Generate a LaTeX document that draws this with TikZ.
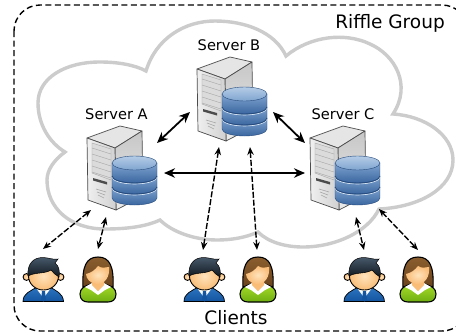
\documentclass[tikz,border=0pt]{standalone}
\usepackage{fontspec}
\setmainfont{DejaVu Sans}
\usetikzlibrary{arrows.meta}
\definecolor{cloudgray}{HTML}{CCCCCC}
\definecolor{dbdark}{HTML}{3A66A0}
\definecolor{dbmid}{HTML}{7FA4CF}
\definecolor{dblight}{HTML}{B4CCE6}
\definecolor{dbline}{HTML}{264A7C}
\definecolor{suit}{HTML}{14559F}
\definecolor{suitlight}{HTML}{2C74C0}
\definecolor{skin}{HTML}{FFE3BC}
\definecolor{skindark}{HTML}{F9BD78}
\definecolor{brownhair}{HTML}{6B431C}
\definecolor{brownlight}{HTML}{8A5E2E}
\definecolor{greenshirt}{HTML}{A6DC2A}
\definecolor{greendark}{HTML}{6FAE12}
\definecolor{darkhair}{HTML}{10171D}
\definecolor{hairlight}{HTML}{46586A}
\tikzset{
  x=1pt,y=-1pt,
  cloudline/.style={draw=cloudgray,line width=3.4pt,line join=miter},
  grouplabel/.style={font=\fontsize{18.5}{20}\selectfont,inner sep=0pt,anchor=base},
  serverlabel/.style={font=\fontsize{14.6}{16}\selectfont,inner sep=0pt,anchor=base},
  solidlink/.style={line width=1.8pt,{Stealth[length=11pt,width=9.5pt]}-{Stealth[length=11pt,width=9.5pt]}},
  dashlink/.style={line width=1.4pt,dash pattern=on 6pt off 2pt,{Stealth[length=8pt,width=6.5pt]}-{Stealth[length=8pt,width=6.5pt]}},
  serverpic/.pic={
    \fill[black!10,draw=black!70,line width=.7pt,line join=round] (0,12) -- (33,0) -- (55,5) -- (28,22) -- cycle;
    \shade[top color=black!22,bottom color=black!8,draw=black!70,line width=.7pt,line join=round] (28,22) -- (55,5) -- (56,70) -- (29,84) -- cycle;
    \shade[left color=black!6,right color=black!18,draw=black!70,line width=.7pt,line join=round] (0,12) -- (28,22) -- (29,84) -- (1,74) -- cycle;
    \fill[black!14,draw=black!35,line width=.4pt] (5,17) -- (24,23) -- (24,54) -- (5,47) -- cycle;
    \foreach \k in {0,1,2,3,4}{\draw[black!35,line width=.4pt] (5,{22+6*\k}) -- (24,{28+6*\k});}
    \fill[black!70] (6,52) -- (20,56) -- (20,58.5) -- (6,54.5) -- cycle;
    \foreach \k in {0,1,2}{\draw[black!35,line width=.6pt] ({9+\k},{63+3*\k}) -- ({19-\k},{66+3*\k});}
    \shade[top color=dbmid,bottom color=dbdark,draw=dbline,line width=.4pt]
      (25,61) -- (25,72) arc[start angle=180,end angle=0,x radius=22.5,y radius=7] -- (70,61) -- cycle;
    \shade[top color=dbmid,bottom color=dbdark,draw=dbline,line width=.4pt]
      (25,50) -- (25,61) arc[start angle=180,end angle=0,x radius=22.5,y radius=7] -- (70,50) -- cycle;
    \shade[top color=dbmid,bottom color=dbdark,draw=dbline,line width=.4pt]
      (25,37) -- (25,50) arc[start angle=180,end angle=0,x radius=22.5,y radius=7] -- (70,37) -- cycle;
    \foreach \yy in {50,61}{
      \draw[white!60!dblight,line width=.6pt] (25,\yy+1) arc[start angle=180,end angle=0,x radius=22.5,y radius=7];
      \draw[dbline,line width=.7pt] (25,\yy) arc[start angle=180,end angle=0,x radius=22.5,y radius=7];
    }
    \shade[top color=dblight,bottom color=dbmid,draw=dbline,line width=.4pt] (47.5,37) ellipse[x radius=22.5,y radius=7];
  },
  manpic/.pic={
    \shade[top color=suitlight,bottom color=suit,draw=black,line width=.7pt] (0,44.5) .. controls (0,36) and (8,34) .. (14,30) -- (27,30) .. controls (33,34) and (40,36) .. (40.5,44.5) -- cycle;
    \fill[white] (13,31) -- (28,31) -- (20.5,41) -- cycle;
    \fill[suit] (19,34) -- (22,34) -- (23,43) -- (20.5,44.5) -- (18,43) -- cycle;
    \shade[inner color=skin,outer color=skindark,draw=black,line width=.9pt] (3.5,20) circle[radius=3.4];
    \shade[inner color=skin,outer color=skindark,draw=black,line width=.9pt] (37.5,20) circle[radius=3.4];
    \shade[inner color=skin,outer color=skindark,draw=black,line width=.9pt] (20.5,19) ellipse[x radius=15,y radius=14];
    \shade[top color=hairlight,bottom color=darkhair,draw=black,line width=.5pt] (5,19) .. controls (4,7) and (10,0.5) .. (20,0.5) .. controls (25,0.5) and (30,3) .. (35,2) -- (32,6) .. controls (36,9) and (37,14) .. (36,20) .. controls (33,18) and (30,16) .. (28,13) .. controls (22,17) and (12,15) .. (5,19) -- cycle;
  },
  womanpic/.pic={
    \shade[top color=brownlight,bottom color=brownhair,draw=black,line width=1.1pt] (3,30) .. controls (2,10) and (6,0) .. (18,0) .. controls (30,0) and (34,10) .. (33,30) -- cycle;
    \shade[top color=greenshirt,bottom color=greendark,draw=black,line width=1.1pt] (0,37) .. controls (0,31) and (5,29) .. (11,27) -- (25,27) .. controls (31,29) and (36,31) .. (36,37) .. controls (36,43) and (32,45) .. (28,45) -- (8,45) .. controls (4,45) and (0,43) .. (0,37) -- cycle;
    \fill[white] (5,30) -- (12,26) -- (18,34) -- (24,26) -- (31,30) -- (25,33) -- (18,38) -- (11,33) -- cycle;
    \fill[skindark] (12,24) -- (24,24) -- (24,28) -- (18,34) -- (12,28) -- cycle;
    \shade[inner color=skin,outer color=skindark] (18,9) .. controls (22,12) and (26,10) .. (29,10) .. controls (30,20) and (25,27) .. (17,27) .. controls (10,27) and (6,21) .. (6,17) .. controls (11,16) and (15,13) .. (18,9) -- cycle;
  }
}
\begin{document}
\begin{tikzpicture}
\path[use as bounding box,fill=white] (0,0) rectangle (456,333);
\clip (0,0) rectangle (456,333);
% group frame (its right side lies beyond the picture edge)
\draw[line width=1.4pt,dash pattern=on 6pt off 3.5pt,rounded corners=26pt] (14,5) rectangle (468,331);
% cloud
\path[cloudline] (146,71)
  .. controls (156,38) and (185,21) .. (215,21)
  .. controls (245,21) and (275,32) .. (286,56)
  .. controls (310,36) and (345,32) .. (370,44)
  .. controls (395,55) and (412,85) .. (393,114)
  .. controls (425,116) and (453,135) .. (453,160)
  .. controls (453,188) and (420,207) .. (379,209)
  .. controls (368,232) and (335,247) .. (303,247)
  .. controls (285,247) and (268,242) .. (258,232)
  .. controls (245,238) and (230,240) .. (217,240)
  .. controls (195,240) and (172,232) .. (160,220)
  .. controls (145,227) and (125,229) .. (105,229)
  .. controls (70,229) and (47,208) .. (47,180)
  .. controls (47,170) and (54,160) .. (65,152)
  .. controls (50,143) and (38,125) .. (38,103)
  .. controls (38,78) and (65,62) .. (100,62)
  .. controls (118,62) and (135,65) .. (146,71) -- cycle;
% servers
\path (87,126) pic {serverpic};
\path (197,57) pic {serverpic};
\path (310,126) pic {serverpic};
% labels
\node[serverlabel] (la) at (116.5,119) {Server A};
\node[serverlabel] (lb) at (229,50) {Server B};
\node[serverlabel] (lc) at (343,119) {Server C};
\node[grouplabel] (rg) at (390,28) {Riffle Group};
\node[grouplabel] (cl) at (236,324) {Clients};
% people
\path (23,257) pic {manpic};
\path (80,257) pic {womanpic};
\path (184,257) pic {manpic};
\path (240,257) pic {womanpic};
\path (344,257) pic {manpic};
\path (400,257) pic {womanpic};
% anchor coordinates
\coordinate (ab1) at (157,143); \coordinate (ab2) at (190,112);
\coordinate (bc1) at (273,112); \coordinate (bc2) at (305,143);
\coordinate (ac1) at (164,173); \coordinate (ac2) at (305,173);
\coordinate (am) at (91,210); \coordinate (man1) at (43,249);
\coordinate (aw) at (106,217); \coordinate (wom1) at (98,249);
\coordinate (bm) at (219,147); \coordinate (man2) at (203,250);
\coordinate (bw) at (250,147); \coordinate (wom2) at (257,250);
\coordinate (cm) at (356,217); \coordinate (man3) at (364,250);
\coordinate (cw) at (379,209); \coordinate (wom3) at (418,250);
\draw[solidlink] (ab1) -- (ab2);
\draw[solidlink] (bc1) -- (bc2);
\draw[solidlink] (ac1) -- (ac2);
\draw[dashlink] (am) -- (man1);
\draw[dashlink] (aw) -- (wom1);
\draw[dashlink] (bm) -- (man2);
\draw[dashlink] (bw) -- (wom2);
\draw[dashlink] (cm) -- (man3);
\draw[dashlink] (cw) -- (wom3);
\end{tikzpicture}
\end{document}
